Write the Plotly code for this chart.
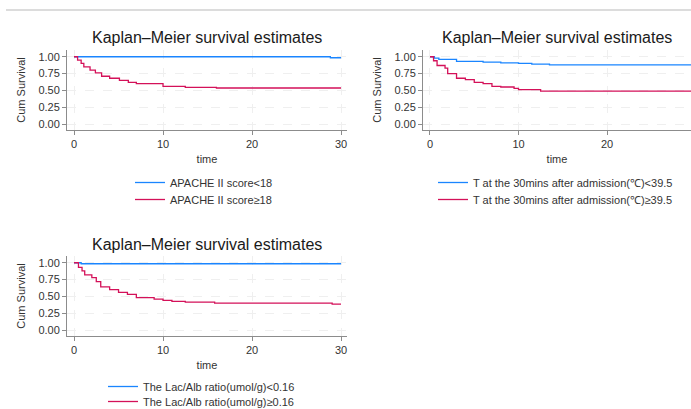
import plotly.graph_objects as go

W, H = 691, 409

# ---------------- data ----------------
apache_lo_t = [0, 28.8, 30]
apache_lo_s = [1.0, 0.985, 0.985]
apache_hi_t = [0, 0.4, 0.8, 1.1, 1.8, 2.4, 3.1, 4.0, 5.1, 6.1, 7.0, 10.0, 12.5, 16.0, 30]
apache_hi_s = [1.0, 0.95, 0.90, 0.85, 0.80, 0.76, 0.71, 0.68, 0.65, 0.62, 0.60, 0.56, 0.545, 0.535, 0.535]

temp_lo_t = [0, 0.5, 1.0, 3.0, 6.0, 8.0, 10.0, 11.5, 13.5, 30]
temp_lo_s = [1.0, 0.98, 0.96, 0.93, 0.92, 0.91, 0.90, 0.89, 0.88, 0.88]
temp_hi_t = [0, 0.4, 0.8, 1.7, 2.0, 3.0, 4.0, 5.0, 6.0, 7.0, 8.0, 9.5, 10.0, 12.5, 30]
temp_hi_s = [1.0, 0.94, 0.87, 0.83, 0.75, 0.68, 0.66, 0.62, 0.60, 0.56, 0.55, 0.53, 0.51, 0.49, 0.49]

lac_lo_t = [0, 0.8, 30]
lac_lo_s = [1.0, 0.985, 0.985]
lac_hi_t = [0, 0.5, 0.9, 1.2, 2.0, 2.5, 3.0, 4.0, 5.0, 6.0, 7.0, 9.0, 10.0, 11.0, 12.5, 15.8, 29.0, 30]
lac_hi_s = [1.0, 0.93, 0.88, 0.82, 0.78, 0.72, 0.64, 0.60, 0.56, 0.53, 0.48, 0.46, 0.44, 0.425, 0.415, 0.40, 0.385, 0.385]

labels = [
    ("APACHE II score<18", "APACHE II score≥18"),
    ("T at the 30mins after admission(℃)<39.5", "T at the 30mins after admission(℃)≥39.5"),
    ("The Lac/Alb ratio(umol/g)<0.16", "The Lac/Alb ratio(umol/g)≥0.16"),
]
title_text = "Kaplan–Meier survival estimates"
y_ticks = [0, 0.25, 0.5, 0.75, 1.0]
x_ticks = [0, 10, 20, 30]

BLUE = "#1a85ff"
RED = "#d41159"
FONT = "Liberation Sans, Arial, sans-serif"

def fx(px):
    return px / W

def fy(py):
    return 1 - py / H

# panel geometry in window pixels; legend: (x, top of row 1, top of row 2)
panels = [
    dict(x0=67, x1=347, y0=50, y1=130, xr=[-0.79, 30.67], leg=(130, 168, 185)),
    dict(x0=423, x1=691, y0=50, y1=130, xr=[-0.79, 29.49], leg=(433, 168, 185)),
    dict(x0=67, x1=347, y0=256, y1=336, xr=[-0.79, 30.67], leg=(103, 372, 387)),
]
yr = [-0.089, 1.10]

fig = go.Figure()
series = [
    (apache_lo_t, apache_lo_s, apache_hi_t, apache_hi_s),
    (temp_lo_t, temp_lo_s, temp_hi_t, temp_hi_s),
    (lac_lo_t, lac_lo_s, lac_hi_t, lac_hi_s),
]
for i, (t1, s1, t2, s2) in enumerate(series):
    sfx = "" if i == 0 else str(i + 1)
    la = "legend" if i == 0 else f"legend{2*i+1}"
    lb = f"legend{2*i+2}"
    fig.add_trace(go.Scatter(x=t1, y=s1, mode="lines", line=dict(color=BLUE, width=1.3, shape="hv"),
                             name=labels[i][0], xaxis="x" + sfx, yaxis="y" + sfx, legend=la))
    fig.add_trace(go.Scatter(x=t2, y=s2, mode="lines", line=dict(color=RED, width=1.3, shape="hv"),
                             name=labels[i][1], xaxis="x" + sfx, yaxis="y" + sfx, legend=lb))

layout = dict(
    width=W, height=H, margin=dict(l=0, r=0, t=0, b=0, autoexpand=False),
    paper_bgcolor="white", plot_bgcolor="white",
    font=dict(family=FONT, size=11, color="#222"),
    showlegend=True,
)
annotations = []
shapes = [dict(type="line", xref="paper", yref="paper", x0=fx(6), x1=1, y0=fy(10), y1=fy(10),
               line=dict(color="#dcdcdc", width=2))]
for i, p in enumerate(panels):
    sfx = "" if i == 0 else str(i + 1)
    ax_common = dict(showline=True, linecolor="#8c8c8c", linewidth=1, ticks="outside", ticklen=4,
                     tickcolor="#8c8c8c", showgrid=True, gridcolor="#efefef", griddash="dash",
                     zeroline=False, tickfont=dict(size=11, color="#333"), automargin=False)
    layout["xaxis" + sfx] = dict(ax_common, domain=[fx(p["x0"]), min(1, fx(p["x1"]))], range=p["xr"],
                                 anchor="y" + sfx, tickvals=x_ticks,
                                 title=dict(text="time", font=dict(size=11, color="#333"), standoff=6))
    layout["yaxis" + sfx] = dict(ax_common, domain=[fy(p["y1"]), fy(p["y0"])], range=yr,
                                 anchor="x" + sfx, tickvals=y_ticks, tickformat=".2f",
                                 title=dict(text="Cum Survival", font=dict(size=11, color="#333"), standoff=10))
    annotations.append(dict(text=title_text, xref="paper", yref="paper",
                            x=fx((p["x0"] + p["x1"]) / 2), y=fy(p["y0"] - 12),
                            xanchor="center", yanchor="middle", showarrow=False,
                            font=dict(size=16, color="#1a1a1a")))
    for k, ln in enumerate(["legend" if i == 0 else f"legend{2*i+1}", f"legend{2*i+2}"]):
        layout[ln] = dict(x=fx(p["leg"][0]), y=fy(p["leg"][1 + k]), xanchor="left", yanchor="top",
                          bgcolor="rgba(0,0,0,0)", font=dict(size=11, color="#333"), itemwidth=30)
layout["annotations"] = annotations
layout["shapes"] = shapes
fig.update_layout(**layout)
fig.write_html("out.html", config={"displayModeBar": False},
               post_script="document.body.style.margin='0px';")
